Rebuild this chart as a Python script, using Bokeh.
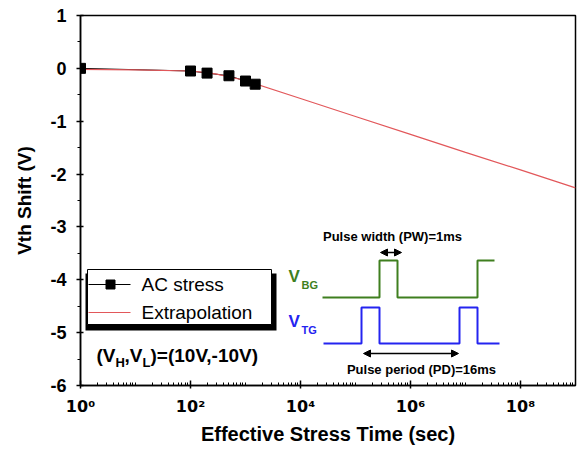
from bokeh.plotting import figure
from bokeh.models import Range1d, FixedTicker, Arrow, NormalHead, Label
from bokeh.embed import file_html
from bokeh.resources import INLINE

# ---------------- data ----------------
t_ac = [1, 100, 200, 500, 1000, 1500]
dv_ac = [0.0, -0.05, -0.09, -0.14, -0.24, -0.30]

t_ext = [1, 10, 100, 200, 300, 1000, 1e4, 1e5, 1e6, 1e7, 1e8, 1e9]
dv_ext = [-0.02, -0.03, -0.05, -0.08, -0.11, -0.23, -0.57, -0.91, -1.25, -1.59, -1.92, -2.26]

x_major = [1, 1e2, 1e4, 1e6, 1e8]
x_labels = ["10\u2070", "10\u00b2", "10\u2074", "10\u2076", "10\u2078"]
y_major = [-6, -5, -4, -3, -2, -1, 0, 1]
y_labels = ["-6", "-5", "-4", "-3", "-2", "-1", "0", "1"]

FONT = "Liberation Sans"
GREEN = "#3f7f1f"
BLUE = "#2424f0"
RED = "#e2575a"

p = figure(width=578, height=458, x_axis_type="log",
           x_range=Range1d(1, 1e9), y_range=Range1d(-6, 1),
           output_backend="svg", toolbar_location=None,
           min_border_left=80, min_border_right=3,
           min_border_top=15, min_border_bottom=73)
p.xgrid.visible = False
p.ygrid.visible = False
p.outline_line_color = "black"
p.outline_line_width = 1.5
p.background_fill_color = "white"
p.border_fill_color = "white"


# helper: schematic placement, relative to the plot frame
def X(px):
    return 10 ** ((px - 80) / 495 * 9)


def Y(py):
    return 1 - (py - 15) / 370 * 7


# axes
minors_x = [m * 10 ** k for k in range(0, 9) for m in range(2, 11)]
p.xaxis.ticker = FixedTicker(ticks=x_major, minor_ticks=minors_x)
p.xaxis.major_label_overrides = {float(t): s for t, s in zip(x_major, x_labels)}
p.yaxis.ticker = FixedTicker(ticks=y_major,
                             minor_ticks=[v + 0.5 for v in y_major[:-1]])
p.yaxis.major_label_overrides = {float(t): s for t, s in zip(y_major, y_labels)}
for ax in (p.xaxis[0], p.yaxis[0]):
    ax.axis_line_color = "black"
    ax.axis_line_width = 1.5
    ax.major_tick_line_color = "black"
    ax.minor_tick_line_color = "black"
    ax.major_tick_line_width = 1.5
    ax.minor_tick_line_width = 1
    ax.major_label_text_font = FONT
    ax.major_label_text_font_style = "bold"
    ax.major_label_text_font_size = "18px"
    ax.major_label_text_color = "black"
    ax.axis_label_text_font = FONT
    ax.axis_label_text_font_style = "bold"
    ax.axis_label_text_color = "black"

p.xaxis.major_label_text_font = "DejaVu Sans"
p.xaxis.major_label_text_font_size = "16px"
p.xaxis.major_tick_in = 5
p.xaxis.major_tick_out = 3
p.xaxis.minor_tick_in = 3
p.xaxis.minor_tick_out = 0
p.xaxis.major_label_standoff = 8
p.xaxis.axis_label = "Effective Stress Time (sec)"
p.xaxis.axis_label_text_font_size = "20px"
p.xaxis.axis_label_standoff = 4

p.yaxis.major_tick_in = 3
p.yaxis.major_tick_out = 4
p.yaxis.minor_tick_in = 0
p.yaxis.minor_tick_out = 3
p.yaxis.major_label_standoff = 10
p.yaxis.axis_label = "Vth Shift (V)"
p.yaxis.axis_label_text_font_size = "19px"
p.yaxis.axis_label_standoff = 12

# data
p.line(t_ac, dv_ac, line_color="black", line_width=1)
p.line(t_ext, dv_ext, line_color=RED, line_width=1.2)
p.scatter(t_ac, dv_ac, marker="square", size=10, fill_color="black", line_color="black")

# legend (manual, with shadow)
p.quad(left=[X(85)], right=[X(276)], top=[Y(273)], bottom=[Y(330)],
       fill_color="black", line_color=None)
p.quad(left=[X(87)], right=[X(271)], top=[Y(269)], bottom=[Y(324)],
       fill_color="white", line_color="black", line_width=1)
p.line([X(88), X(130)], [Y(284), Y(284)], line_color="black", line_width=1)
p.scatter([X(110)], [Y(284)], marker="square", size=9, fill_color="black", line_color="black")
p.line([X(88), X(130)], [Y(312), Y(312)], line_color=RED, line_width=1.2)


def lab(px, py, text, size, color="black", style="bold", align="left"):
    p.add_layout(Label(x=X(px), y=Y(py), text=text, text_font=FONT,
                       text_font_size=size, text_font_style=style,
                       text_color=color, text_baseline="middle",
                       text_align=align))


lab(141, 284, "AC stress", "19px", style="normal")
lab(141, 312, "Extrapolation", "19px", style="normal")

# (VH,VL)=(10V,-10V)
lab(96, 355, "(V", "19px")
lab(115, 362, "H", "13px")
lab(124, 355, ",V", "19px")
lab(142, 362, "L", "13px")
lab(150, 355, ")=(10V,-10V)", "19px")

# inset schematic
bg_x = [322, 379, 379, 397, 397, 477, 477, 494]
bg_y = [297, 297, 260, 260, 297, 297, 260, 260]
tg_x = [323, 361, 361, 379, 379, 459, 459, 477, 477, 499]
tg_y = [343, 343, 307, 307, 343, 343, 307, 307, 343, 343]
p.line([X(v) for v in bg_x], [Y(v) for v in bg_y], line_color=GREEN, line_width=2)
p.line([X(v) for v in tg_x], [Y(v) for v in tg_y], line_color=BLUE, line_width=2)

lab(288, 276, "V", "17px", color=GREEN)
lab(301, 284, "BG", "11px", color=GREEN)
lab(288, 321, "V", "17px", color=BLUE)
lab(301, 329, "TG", "11px", color=BLUE)

for x0, x1, yy in ((380, 401, 252), (363, 458, 353)):
    p.add_layout(Arrow(start=NormalHead(size=7, fill_color="black", line_color="black"),
                       end=NormalHead(size=7, fill_color="black", line_color="black"),
                       x_start=X(x0), y_start=Y(yy), x_end=X(x1), y_end=Y(yy),
                       line_color="black", line_width=1.5))

lab(392, 236, "Pulse width (PW)=1ms", "13px", align="center")
lab(421, 369, "Pulse period (PD)=16ms", "13px", align="center")

open("out.html", "w").write(file_html(p, INLINE))
